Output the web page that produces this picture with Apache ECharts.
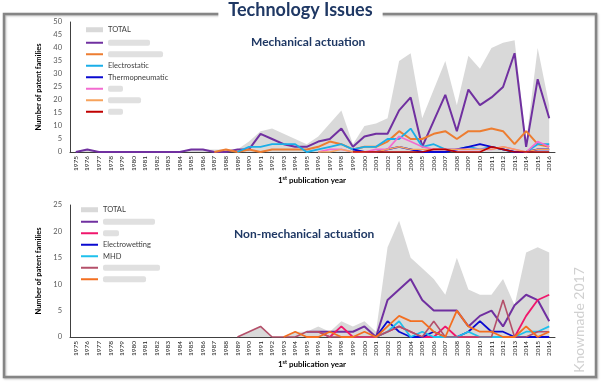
<!DOCTYPE html>
<html><head><meta charset="utf-8">
<script src="https://cdn.jsdelivr.net/npm/echarts@6/dist/echarts.min.js"></script>
<style>html,body{margin:0;padding:0;background:#fff}#c{width:601px;height:382px}</style>
</head><body><div id="c"></div>
<script>
// ---------- DATA ----------
const years = ['1975','1976','1977','1978','1979','1980','1981','1982','1983','1984','1985','1986','1987','1988','1989','1990','1991','1992','1993','1994','1995','1996','1997','1998','1999','2000','2001','2002','2003','2004','2005','2006','2007','2008','2009','2010','2011','2012','2013','2014','2015','2016'];
const yTicksTop = [0,5,10,15,20,25,30,35,40,45,50];
const yTicksBot = [0,5,10,15,20,25];
const N = null;

// Mechanical actuation
const topTotal  = [0,1,0,0,0,0,0,0,0,0,1,1,1,1,1,4,8,9,7,5,3,6,11,16,3,10,11,13,35,38,13,24,35,18,37,32,40,42,43,4,40,18];
const topMechA  = [0,1,0,0,0,0,0,0,0,0,1,1,0,0,1,1,7,5,3,2,2,4,5,9,2,6,7,7,16,21,2,12,22,8,24,18,21,25,38,2,28,13];
const topMechB  = [N,N,N,N,N,N,N,N,N,N,N,N,0,1,0,1,0,1,1,1,1,2,4,3,1,2,2,4,8,5,5,7,8,5,8,8,9,8,3,8,3,2];
const topElectrostatic = [N,N,N,N,N,N,N,N,N,N,N,N,N,N,0,2,2,3,3,3,0,1,2,3,1,2,2,5,5,9,2,3,1,1,2,1,2,1,0,0,3,3];
const topThermo = [N,N,N,N,N,N,N,N,N,N,N,N,N,N,N,N,N,N,N,N,N,N,N,N,1,0,0,1,2,1,0,0,0,1,2,3,2,1,0,0,1,1];
const topMechC  = [N,N,N,N,N,N,N,N,N,N,N,N,N,N,N,N,N,N,N,N,N,0,1,1,0,0,1,1,6,4,2,1,1,1,1,1,1,2,1,0,4,2];
const topMechD  = [N,N,N,N,N,N,N,N,N,N,N,N,N,N,N,N,N,N,N,N,N,0,0,1,0,0,0,1,2,1,1,1,1,1,1,1,1,2,1,0,1,1];
const topMechE  = [N,N,N,N,N,N,N,N,N,N,N,N,N,N,N,N,N,N,N,N,N,N,N,N,0,0,0,0,0,0,0,1,1,0,0,0,2,1,0,0,0,0];

// Non-mechanical actuation
const botTotal  = [0,0,0,0,0,0,0,0,0,0,0,0,0,0,0,1,2,0,0,1,1,2,1,3,2,3,1,17,22,15,13,11,8,15,9,8,8,11,6,16,17,16];
const botNmA    = [N,N,N,N,N,N,N,N,N,N,N,N,N,N,N,N,N,N,N,N,1,1,1,1,1,2,0,7,9,11,7,5,5,5,2,4,5,2,6,8,7,3];
const botNmB    = [N,N,N,N,N,N,N,N,N,N,N,N,N,N,N,N,N,N,N,N,N,1,0,2,0,0,0,1,2,1,0,0,2,0,0,0,0,0,0,4,7,8];
const botElectrowetting = [N,N,N,N,N,N,N,N,N,N,N,N,N,N,N,N,N,N,N,N,N,N,N,N,N,N,0,3,1,0,0,1,0,0,1,3,1,1,0,0,0,0];
const botMHD    = [N,N,N,N,N,N,N,N,N,N,N,N,N,N,N,N,N,N,N,N,N,N,N,N,N,N,0,1,3,0,1,0,0,0,1,0,0,0,0,1,1,2];
const botNmC    = [N,N,N,N,N,N,N,N,N,N,N,N,N,N,0,1,2,0,0,0,1,1,0,0,0,0,0,1,2,1,0,3,0,0,0,0,0,7,0,0,1,1];
const botNmD    = [N,N,N,N,N,N,N,N,N,N,N,N,N,N,N,N,N,N,0,1,0,0,1,0,0,1,0,2,4,3,3,1,0,5,2,1,1,0,0,2,0,1];

// legend labels that are blurred in the source (widths of the grey blur blocks)
const blurred = {'Mech A':42,'Mech B':55,'Mech C':15,'Mech D':33,'Mech E':15,'Non-mech A':52,'Non-mech B':16,'Non-mech C':57,'Non-mech D':43};
const display = {'TOTAL ':'TOTAL'};

// ---------- CHART ----------
const FONT = 'Lato, "Open Sans", sans-serif';
const navy = '#1f3864';
const chart = echarts.init(document.getElementById('c'), null, {renderer:'canvas'});

const rich = {};
Object.values(blurred).forEach(w => { rich['b'+w] = {width:w, height:6, backgroundColor:'#e0e0e0', borderRadius:2, lineHeight:11.5}; });
const legendFmt = name => blurred[name] ? '{b'+blurred[name]+'| }' : (display[name] || name);

function lineSeries(name, data, color, xi, width){
  return {name, type:'line', xAxisIndex:xi, yAxisIndex:xi, data, symbol:'none', connectNulls:false,
    lineStyle:{color, width: width||1.6}, itemStyle:{color}, z:3};
}
function areaSeries(name, data, xi){
  return {name, type:'line', xAxisIndex:xi, yAxisIndex:xi, data, symbol:'none',
    lineStyle:{width:0, color:'#d9d9d9'}, itemStyle:{color:'#d9d9d9'}, areaStyle:{color:'#d9d9d9', opacity:1}, z:1};
}
function xAxis(gi){
  return {type:'category', gridIndex:gi, data:years, boundaryGap:true,
    axisLine:{lineStyle:{color:'#404040', width:1}}, axisTick:{show:false},
    axisLabel:{rotate:90, interval:0, fontSize:6.5, color:'#222', margin:4, fontFamily:FONT}};
}
function yAxis(gi, ticks){
  return {type:'value', gridIndex:gi, min:ticks[0], max:ticks[ticks.length-1], interval:ticks[1]-ticks[0],
    splitLine:{show:false}, axisTick:{show:false}, axisLine:{show:true, lineStyle:{color:'#404040', width:1}},
    axisLabel:{fontSize:7.5, color:'#595959', margin:8, fontFamily:FONT},
    name:'Number of patent families', nameLocation:'middle', nameGap:16,
    nameTextStyle:{fontSize:7.5, fontWeight:'bold', color:'#000', fontFamily:FONT}};
}
function legendTotal(name, left, top){
  return {data:[name], orient:'vertical', left, top, padding:0, icon:'rect', itemWidth:17, itemHeight:5,
    formatter:legendFmt, selectedMode:false, textStyle:{fontSize:7.5, color:'#404040', fontFamily:FONT, lineHeight:11.5}};
}
function legendLines(names, left, top){
  return {data:names, orient:'vertical', left, top, padding:0, icon:'rect', itemWidth:17, itemHeight:2, itemGap:0,
    formatter:legendFmt, selectedMode:false, textStyle:{fontSize:7.5, color:'#404040', fontFamily:FONT, lineHeight:11.5, rich}};
}

const option = {
  animation:false,
  backgroundColor:'#fff',
  textStyle:{fontFamily:FONT},
  title:{text:'Technology Issues', left:'center', top:0, padding:[1,10,1,10], backgroundColor:'#fff', z:10,
    textStyle:{fontSize:18, fontWeight:'bold', color:navy, fontFamily:FONT}},
  grid:[
    {left:70, top:22, width:485, height:130},
    {left:70, top:205, width:485, height:132}
  ],
  xAxis:[xAxis(0), xAxis(1)],
  yAxis:[yAxis(0, yTicksTop), yAxis(1, yTicksBot)],
  legend:[
    legendTotal('TOTAL', 86, 24),
    legendLines(['Mech A','Mech B','Electrostatic','Thermopneumatic','Mech C','Mech D','Mech E'], 86, 37),
    legendTotal('TOTAL ', 81, 204),
    legendLines(['Non-mech A','Non-mech B','Electrowetting','MHD','Non-mech C','Non-mech D'], 81, 216)
  ],
  series:[
    areaSeries('TOTAL', topTotal, 0),
    lineSeries('Mech A', topMechA, '#7030a0', 0, 2),
    lineSeries('Mech B', topMechB, '#ed7d31', 0, 2),
    lineSeries('Electrostatic', topElectrostatic, '#1aaee8', 0, 1.8),
    lineSeries('Thermopneumatic', topThermo, '#0a0ad0', 0, 1.8),
    lineSeries('Mech C', topMechC, '#f36bd0', 0, 1.6),
    lineSeries('Mech D', topMechD, '#f7a35c', 0, 1.4),
    lineSeries('Mech E', topMechE, '#c00000', 0, 1.6),
    areaSeries('TOTAL ', botTotal, 1),
    lineSeries('Non-mech A', botNmA, '#7030a0', 1, 2),
    lineSeries('Non-mech B', botNmB, '#f0166c', 1, 1.8),
    lineSeries('Electrowetting', botElectrowetting, '#0a0ad0', 1, 1.8),
    lineSeries('MHD', botMHD, '#1ec0ec', 1, 1.8),
    lineSeries('Non-mech C', botNmC, '#b4506a', 1, 1.6),
    lineSeries('Non-mech D', botNmD, '#f36f21', 1, 1.8)
  ],
  graphic:[
    {type:'rect', z:-10, silent:true, shape:{x:4, y:14, width:592, height:363},
      style:{fill:null, stroke:'#858585', lineWidth:2.5, shadowBlur:2, shadowColor:'rgba(0,0,0,0.25)', shadowOffsetX:1, shadowOffsetY:1}},
    {type:'text', z:10, silent:true, style:{text:'Mechanical actuation', x:251, y:42, verticalAlign:'middle', fill:navy, font:'bold 12px '+FONT}},
    {type:'text', z:10, silent:true, style:{text:'Non-mechanical actuation', x:234, y:234, verticalAlign:'middle', fill:navy, font:'bold 12px '+FONT}},
    {type:'text', z:10, silent:true, style:{text:'{a|1}{s|st}{a| publication year}', x:312, y:180, align:'center', verticalAlign:'middle',
      rich:{a:{fontSize:8, fontWeight:'bold', fill:'#000', fontFamily:FONT}, s:{fontSize:5.5, fontWeight:'bold', fill:'#000', fontFamily:FONT, verticalAlign:'top', padding:[0,0,4,0]}}}},
    {type:'text', z:10, silent:true, style:{text:'{a|1}{s|st}{a| publication year}', x:312, y:364, align:'center', verticalAlign:'middle',
      rich:{a:{fontSize:8, fontWeight:'bold', fill:'#000', fontFamily:FONT}, s:{fontSize:5.5, fontWeight:'bold', fill:'#000', fontFamily:FONT, verticalAlign:'top', padding:[0,0,4,0]}}}},
    {type:'text', z:10, silent:true, x:579, y:320, rotation:Math.PI/2,
      style:{text:'Knowmade 2017', align:'center', verticalAlign:'middle', fill:'#d0d0d0', font:'14px '+FONT}}
  ]
};
chart.setOption(option);
</script></body></html>
